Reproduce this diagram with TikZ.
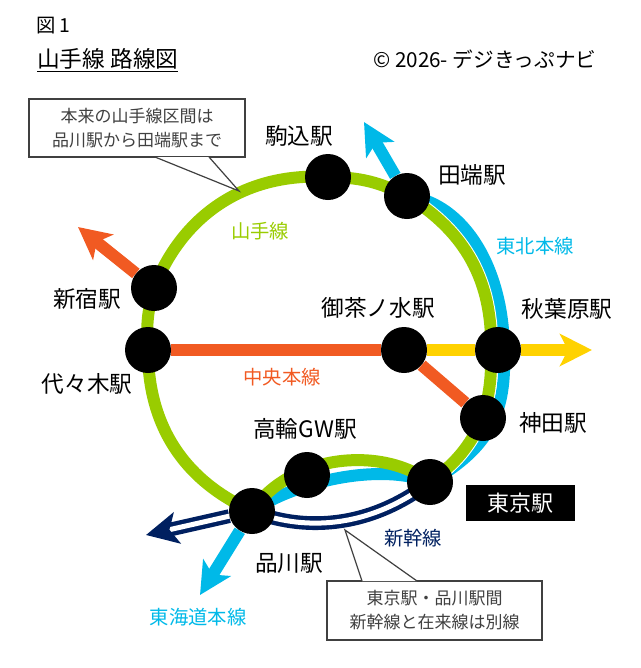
\documentclass[tikz,border=0pt]{standalone}
\usepackage{fontspec}
\usepackage[dvipsnames]{xcolor}
\usetikzlibrary{arrows.meta,backgrounds}
\setmainfont{Noto Sans CJK JP}
\definecolor{yamanote}{HTML}{99CC00}
\definecolor{tohoku}{HTML}{00B9E8}
\definecolor{chuo}{HTML}{F15A22}
\definecolor{sobu}{HTML}{FFD200}
\definecolor{shinkansen}{HTML}{002060}
\definecolor{note}{HTML}{404040}

\begin{document}
\begin{tikzpicture}[x=0.75pt,y=-0.75pt,
    station node/.style={circle,fill=black,minimum size=34.5pt,inner sep=0pt},
    station name/.style={font=\fontsize{17pt}{18pt}\selectfont,inner sep=0pt,text=black},
    line name/.style={font=\fontsize{14.5pt}{16pt}\selectfont,inner sep=0pt},
    note box/.style={rectangle,draw=note,fill=white,line width=0.9pt,text=note,align=center,font=\fontsize{12.75pt}{18pt}\selectfont,inner sep=0pt},
    rail/.style={line width=9pt},
    gap/.style={white,line width=10.5pt},
    head/.style={-{Stealth[length=24pt,width=24pt,inset=6pt]}}]

    \useasboundingbox (0,0) rectangle (640,668);

    \node[station node] (komagome) at (328,177) {};
    \node[station node] (tabata) at (407,196) {};
    \node[station node] (shinjuku) at (154,288) {};
    \node[station node] (yoyogi) at (148,350) {};
    \node[station node] (ochanomizu) at (404,350) {};
    \node[station node] (akihabara) at (498,350) {};
    \node[station node] (kanda) at (483,418) {};
    \node[station node] (tokyo) at (430,482) {};
    \node[station node] (takanawa) at (307,475) {};
    \node[station node] (shinagawa) at (252,511) {};

    \coordinate (tohokuEnd) at (364,122);
    \coordinate (tohokuMid) at (504,352);
    \coordinate (yamanoteMid) at (491,350);
    \coordinate (tokaidoEnd) at (200,595);
    \coordinate (chuoEnd) at (78,227);
    \coordinate (sobuEnd) at (592,350);
    \coordinate (shinkansenEnd) at (146,535);

    % lines go behind the stations
    \begin{scope}[on background layer]
        \draw[rail,tohoku,head] (tabata) to (tohokuEnd);
        \draw[rail,tohoku] (tabata.center) .. controls (465,203) and (504,270) .. (tohokuMid) .. controls (506,410) and (492,447) .. (tokyo.center);
        \draw[rail,tohoku,head] (shinagawa) to (tokaidoEnd);
        \draw[rail,tohoku] (shinagawa.center) .. controls (300,480) and (380,463) .. (tokyo.center);

        \draw[gap] (tabata.center) to[bend left=30] (yamanoteMid);
        \draw[gap] (yamanoteMid) to[bend left=8] (kanda.center);
        \draw[gap] (kanda.center) to[bend left=14] (tokyo.center);

        \draw[rail,yamanote] (shinagawa.center) to[bend left=33] (yoyogi.center);
        \draw[rail,yamanote] (yoyogi.center) to[bend left=10] (shinjuku.center);
        \draw[rail,yamanote] (shinjuku.center) to[bend left=36] (komagome.center);
        \draw[rail,yamanote] (komagome.center) to[bend left=13] (tabata.center);
        \draw[rail,yamanote] (tabata.center) to[bend left=30] (yamanoteMid);
        \draw[rail,yamanote] (yamanoteMid) to[bend left=8] (kanda.center);
        \draw[rail,yamanote] (kanda.center) to[bend left=14] (tokyo.center);
        \draw[rail,yamanote] (shinagawa.center) .. controls (290,455) and (380,445) .. (tokyo.center);

        \draw[rail,chuo,head] (shinjuku) to (chuoEnd);
        \draw[rail,chuo] (yoyogi) to (ochanomizu);
        \draw[rail,chuo] (ochanomizu) to (kanda);
        \draw[rail,sobu] (ochanomizu) to (akihabara);
        \draw[rail,sobu,head] (akihabara) to (sobuEnd);

        \draw[shinkansen,line width=3.3pt,double=white,double distance=3.75pt] (shinagawa.center) .. controls (300,530) and (366,531) .. (tokyo.center);
        \draw[shinkansen,line width=3.3pt,double=white,double distance=3.75pt,head] (shinagawa) to (shinkansenEnd);
    \end{scope}

    \node[station name] (komagomeName) [above of = komagome, node distance=30.75pt, xshift=-21.75pt] {駒込駅};
    \node[station name] (tabataName) [right of = tabata, node distance=48.75pt, yshift=15.75pt] {田端駅};
    \node[station name] (shinjukuName) [left of = shinjuku, node distance=50.25pt, yshift=-8.25pt] {新宿駅};
    \node[station name] (yoyogiName) [left of = yoyogi, node distance=45.75pt, yshift=-25.5pt] {代々木駅};
    \node[station name] (ochanomizuName) [above of = ochanomizu, node distance=31.5pt, xshift=-19.5pt] {御茶ノ水駅};
    \node[station name] (akihabaraName) [above of = akihabara, node distance=30.75pt, xshift=51.75pt] {秋葉原駅};
    \node[station name] (kandaName) [right of = kanda, node distance=52.5pt, yshift=-3.75pt] {神田駅};
    \node[station name] (takanawaName) [above of = takanawa, node distance=34.5pt, xshift=-1.5pt] {高輪GW駅};
    \node[station name] (shinagawaName) [below of = shinagawa, node distance=39pt, xshift=27.75pt] {品川駅};

    \node[line name,text=yamanote] (yamanoteName) at (260,231) {山手線};
    \node[line name,text=tohoku] (tohokuName) at (535,246) {東北本線};
    \node[line name,text=chuo] (chuoName) at (282,377) {中央本線};
    \node[line name,text=shinkansen] (shinkansenName) at (413,538) {新幹線};
    \node[line name,text=tohoku] (tokaidoName) at (198,617) {東海道本線};

    \node[fill=black,text=white,minimum width=81.75pt,minimum height=27pt,inner sep=0pt,font=\fontsize{16.5pt}{18pt}\selectfont] (tokyoName) at (520.5,503) {東京駅};

    % title lines
    \node[anchor=west,inner sep=0pt,font=\fontsize{14.5pt}{16pt}\selectfont] (figNo) at (36,26) {図 1};
    \node[anchor=west,inner sep=0pt,font=\fontsize{17pt}{19pt}\selectfont] (title) at (37,60) {\underline{山手線 路線図}};
    \node[anchor=west,inner sep=0pt,font=\fontsize{15.5pt}{17pt}\selectfont] (credit) at (373,59) {© 2026- デジきっぷナビ};

    % callouts
    \coordinate (noteTipA) at (239,191);
    \node[note box,minimum width=162pt,minimum height=43.5pt] (noteA) at (137,128) {本来の山手線区間は\\品川駅から田端駅まで};
    \fill[white] (155,157) -- (noteTipA) -- (209,157) -- cycle;
    \draw[note,line width=0.9pt] (155,157) -- (noteTipA) -- (209,157);

    \coordinate (noteTipB) at (345,530);
    \node[note box,minimum width=161.25pt,minimum height=44.25pt] (noteB) at (434.5,610.5) {東京駅・品川駅間\\新幹線と在来線は別線};
    \fill[white] (362,581) -- (noteTipB) -- (417,581) -- cycle;
    \draw[note,line width=0.9pt] (362,581) -- (noteTipB) -- (417,581);
\end{tikzpicture}
\end{document}
